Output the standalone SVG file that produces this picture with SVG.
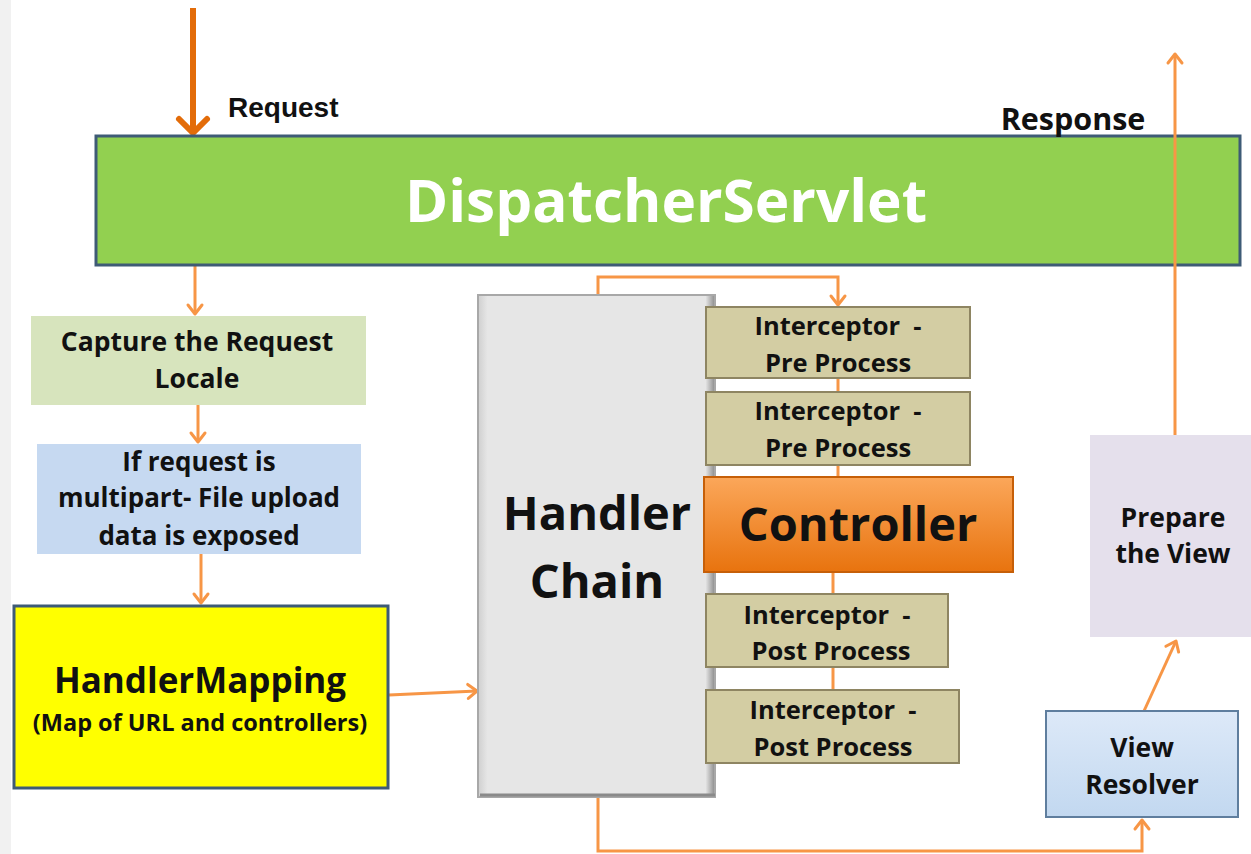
<svg xmlns="http://www.w3.org/2000/svg" width="1251" height="854" viewBox="0 0 1251 854">
<defs>
<style>
.t{font-family:"Open Sans",Lato,"Liberation Sans",sans-serif;font-weight:700;fill:#111;text-anchor:middle}
.c{fill:none;stroke:#F79646;stroke-width:3}
.ic rect{fill:#D3CDA3;stroke:#8E8562;stroke-width:2}
.ic text{font-size:25.5px}
</style>
<marker id="ah" markerUnits="userSpaceOnUse" markerWidth="20" markerHeight="20" viewBox="0 0 20 20" refX="17" refY="10" orient="auto">
<path d="M8,3 L17,10 L8,17" fill="none" stroke="#F79646" stroke-width="3" stroke-linecap="round" stroke-linejoin="round"/>
</marker>
<linearGradient id="og" x1="0" y1="0" x2="0" y2="1">
<stop offset="0" stop-color="#FBA75A"/><stop offset="1" stop-color="#E8730E"/>
</linearGradient>
<linearGradient id="bg" x1="0" y1="0" x2="0" y2="1">
<stop offset="0" stop-color="#DDE9F8"/><stop offset="1" stop-color="#C2D8F0"/>
</linearGradient>
<linearGradient id="hg" x1="0" y1="0" x2="1" y2="0">
<stop offset="0" stop-color="#CFCFCF"/><stop offset="0.04" stop-color="#E6E6E6"/><stop offset="0.96" stop-color="#E6E6E6"/><stop offset="1" stop-color="#8A8A8A"/>
</linearGradient>
</defs>
<rect x="0" y="0" width="1251" height="854" fill="#FFFFFF"/>
<rect x="0" y="0" width="11" height="854" fill="#F1F1F1"/>

<g id="connectors">
<line x1="193" y1="8" x2="193" y2="132" stroke="#E36C09" stroke-width="6"/>
<path d="M179,119 L193,133 L207,119" fill="none" stroke="#E36C09" stroke-width="6" stroke-linecap="round" stroke-linejoin="round"/>
<line class="c" x1="195" y1="266" x2="195" y2="314" marker-end="url(#ah)"/>
<line class="c" x1="198" y1="405" x2="198" y2="442" marker-end="url(#ah)"/>
<line class="c" x1="201" y1="554" x2="201" y2="603" marker-end="url(#ah)"/>
<line class="c" x1="389" y1="695" x2="477" y2="691" marker-end="url(#ah)"/>
<path class="c" d="M598,295 L598,277 L838,277 L838,305" marker-end="url(#ah)"/>
<line class="c" x1="838" y1="378" x2="838" y2="392"/>
<line class="c" x1="838" y1="465" x2="838" y2="477"/>
<line class="c" x1="833" y1="572" x2="833" y2="594"/>
<line class="c" x1="833" y1="667" x2="833" y2="690"/>
<path class="c" d="M598,797 L598,851 L1142,851 L1142,820" marker-end="url(#ah)"/>
<line class="c" x1="1144" y1="711" x2="1176" y2="641" marker-end="url(#ah)"/>
</g>

<g id="dispatcher">
<rect x="96" y="136" width="1144" height="129" fill="#92D050" stroke="#3E5B76" stroke-width="3"/>
<text class="t" x="666" y="222" font-size="58.5" style="fill:#FFFFFF">DispatcherServlet</text>
</g>
<line class="c" x1="1175" y1="435" x2="1175" y2="54" marker-end="url(#ah)"/>
<text id="request-label" x="228" y="117" font-family="'Liberation Sans',Arial,sans-serif" font-weight="700" font-size="28" fill="#111">Request</text>
<text id="response-label" class="t" x="1073" y="130" font-size="30.5">Response</text>

<g id="capture">
<rect x="31" y="316" width="335" height="89" fill="#D7E4BD"/>
<text class="t" x="197" y="351" font-size="26.5">Capture the Request</text>
<text class="t" x="197" y="388" font-size="26.5">Locale</text>
</g>

<g id="multipart">
<rect x="37" y="444" width="324" height="110" fill="#C6D9F1"/>
<text class="t" x="199" y="471" font-size="26">If request is</text>
<text class="t" x="199" y="507" font-size="26">multipart- File upload</text>
<text class="t" x="199" y="545" font-size="26">data is exposed</text>
</g>

<g id="handlermapping">
<rect x="14" y="606" width="374" height="182" fill="#FFFF00" stroke="#3E5B76" stroke-width="3"/>
<text class="t" x="200" y="693" font-size="35">HandlerMapping</text>
<text class="t" x="200" y="731" font-size="23.5">(Map of URL and controllers)</text>
</g>

<g id="handlerchain">
<rect x="478" y="295" width="237" height="502" fill="url(#hg)" stroke="#A8A8A8" stroke-width="2"/>
<line x1="480" y1="795" x2="715" y2="795" stroke="#8A8A8A" stroke-width="3"/>
<text class="t" x="597" y="530" font-size="47">Handler</text>
<text class="t" x="597" y="598" font-size="47">Chain</text>
</g>

<g id="interceptor-pre-1" class="ic">
<rect x="706" y="307" width="264" height="71"/>
<text class="t" x="838" y="335" xml:space="preserve">Interceptor  -</text>
<text class="t" x="838" y="372">Pre Process</text>
</g>
<g id="interceptor-pre-2" class="ic">
<rect x="706" y="392" width="264" height="73"/>
<text class="t" x="838" y="420" xml:space="preserve">Interceptor  -</text>
<text class="t" x="838" y="457">Pre Process</text>
</g>
<g id="controller">
<rect x="704" y="477" width="309" height="95" fill="url(#og)" stroke="#C65F08" stroke-width="2"/>
<text class="t" x="858" y="541" font-size="47">Controller</text>
</g>
<g id="interceptor-post-1" class="ic">
<rect x="706" y="594" width="242" height="73"/>
<text class="t" x="827" y="624" xml:space="preserve">Interceptor  -</text>
<text class="t" x="831" y="660">Post Process</text>
</g>
<g id="interceptor-post-2" class="ic">
<rect x="706" y="690" width="253" height="73"/>
<text class="t" x="833" y="719" xml:space="preserve">Interceptor  -</text>
<text class="t" x="833" y="756">Post Process</text>
</g>

<g id="prepareview">
<rect x="1090" y="435" width="161" height="202" fill="#E5E0EC"/>
<text class="t" x="1173" y="527" font-size="26.5">Prepare</text>
<text class="t" x="1173" y="563" font-size="26.5">the View</text>
</g>
<g id="viewresolver">
<rect x="1046" y="711" width="192" height="106" fill="url(#bg)" stroke="#5F7E9E" stroke-width="2"/>
<text class="t" x="1142" y="757" font-size="26.5">View</text>
<text class="t" x="1142" y="794" font-size="26.5">Resolver</text>
</g>
</svg>
